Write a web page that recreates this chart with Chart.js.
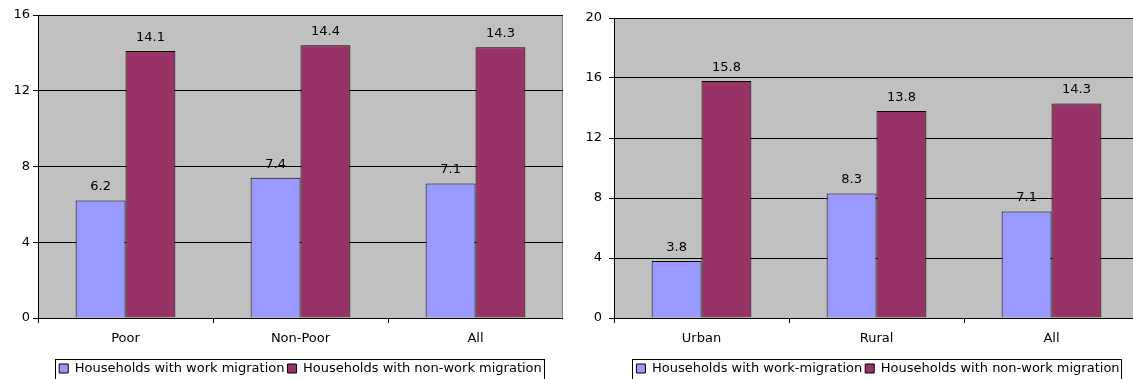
<!DOCTYPE html>
<html lang="en">
  <head>
    <meta charset="UTF-8" />
    <script src="https://cdn.jsdelivr.net/npm/chart.js@4.4.0/dist/chart.umd.min.js"></script>
    <title>Migration households</title>
    <style>
      body {
        margin: 0;
        padding: 0;
        background: white;
        width: 1133px;
        height: 379px;
        overflow: hidden;
        position: relative;
      }
      canvas {
        position: absolute;
        top: 0;
      }
    </style>
  </head>
  <body>
    <canvas id="chartLeft" width="563" height="385" style="left: 0"></canvas>
    <canvas id="chartRight" width="582" height="385" style="left: 557px"></canvas>
    <script>
      // left panel: by poverty status
      const leftCategories = ['Poor', 'Non-Poor', 'All']
      const leftWork = [6.2, 7.4, 7.1]
      const leftNonWork = [14.1, 14.4, 14.3]
      const leftMax = 16

      // right panel: by location
      const rightCategories = ['Urban', 'Rural', 'All']
      const rightWork = [3.8, 8.3, 7.1]
      const rightNonWork = [15.8, 13.8, 14.3]
      const rightMax = 20

      const tickStep = 4
      const font = { family: '"DejaVu Sans", sans-serif', size: 13 }

      const plotBackground = {
        id: 'plotBackground',
        beforeDraw(chart) {
          const { ctx, chartArea: a } = chart
          ctx.save()
          ctx.fillStyle = '#c0c0c0'
          ctx.fillRect(a.left, a.top, a.right - a.left, a.bottom - a.top)
          ctx.strokeStyle = '#808080'
          ctx.lineWidth = 1
          ctx.strokeRect(a.left + 0.5, a.top + 0.5, a.right - a.left - 1, a.bottom - a.top)
          ctx.restore()
        },
      }

      const valueLabels = {
        id: 'valueLabels',
        afterDatasetsDraw(chart) {
          const { ctx } = chart
          ctx.save()
          ctx.font = font.size + 'px ' + font.family
          ctx.fillStyle = '#000'
          ctx.textAlign = 'center'
          ctx.textBaseline = 'bottom'
          chart.data.datasets.forEach((ds, i) => {
            chart.getDatasetMeta(i).data.forEach((bar, j) => {
              ctx.fillText(ds.data[j].toFixed(1), bar.x, bar.y - 7)
            })
          })
          ctx.restore()
        },
      }

      // move the legend sideways and frame it like the original
      const legendFrame = {
        id: 'legendFrame',
        afterLayout(chart, args, opts) {
          chart.legend.left += opts.shift || 0
          chart.legend.right += opts.shift || 0
        },
        afterDraw(chart) {
          const boxes = chart.legend.legendHitBoxes
          if (!boxes.length) return
          const left = Math.min(...boxes.map((b) => b.left))
          const right = Math.max(...boxes.map((b) => b.left + b.width))
          const { ctx } = chart
          ctx.save()
          ctx.strokeStyle = '#000'
          ctx.lineWidth = 1
          ctx.strokeRect(Math.round(left) - 3.5, Math.round(chart.legend.top) + 0.5, Math.round(right - left) + 6, 40)
          ctx.restore()
        },
      }

      const makeChart = (id, labels, work, nonWork, workLabel, max, top, yWidth, yPad, shift) => {
        return new Chart(document.getElementById(id), {
          type: 'bar',
          data: {
            labels: labels,
            datasets: [
              {
                label: workLabel,
                data: work,
                backgroundColor: '#9999ff',
                borderColor: '#000',
                borderWidth: 1,
                categoryPercentage: 0.57,
                barPercentage: 1,
              },
              {
                label: 'Households with non-work migration',
                data: nonWork,
                backgroundColor: '#993366',
                borderColor: '#000',
                borderWidth: 1,
                categoryPercentage: 0.57,
                barPercentage: 1,
              },
            ],
          },
          options: {
            responsive: false,
            animation: false,
            layout: { padding: { left: 0, right: 0, top: top, bottom: 0 } },
            plugins: {
              legend: {
                position: 'bottom',
                labels: {
                  boxWidth: 9,
                  boxHeight: 9,
                  padding: 3,
                  color: '#000',
                  font: font,
                },
              },
              legendFrame: { shift: shift },
              tooltip: { enabled: false },
            },
            scales: {
              x: {
                afterFit: (scale) => {
                  scale.height = 41
                },
                grid: {
                  display: true,
                  offset: true,
                  drawOnChartArea: false,
                  tickLength: 5,
                  color: '#000',
                },
                border: { color: '#000' },
                ticks: { color: '#000', font: font, padding: 8 },
              },
              y: {
                min: 0,
                max: max,
                afterFit: (scale) => {
                  scale.width = yWidth
                },
                grid: {
                  color: '#000',
                  tickLength: 5,
                },
                border: { color: '#000' },
                ticks: { stepSize: tickStep, color: '#000', font: font, padding: yPad },
              },
            },
          },
          plugins: [plotBackground, valueLabels, legendFrame],
        })
      }

      makeChart('chartLeft', leftCategories, leftWork, leftNonWork,
        'Households with work migration', leftMax, 15, 38, 3, 19)
      makeChart('chartRight', rightCategories, rightWork, rightNonWork,
        'Households with work-migration', rightMax, 18, 57, 7, 30)
    </script>
  </body>
</html>
